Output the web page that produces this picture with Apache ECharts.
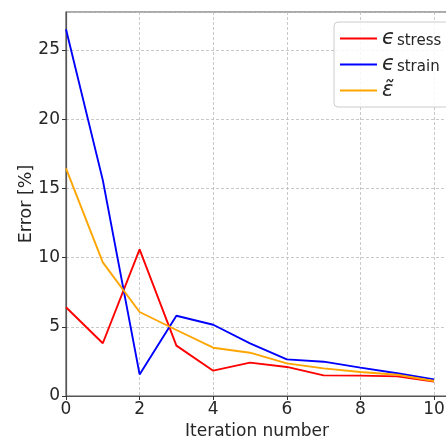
<!DOCTYPE html>
<html><head><meta charset="utf-8">
<script src="https://cdn.jsdelivr.net/npm/echarts@6/dist/echarts.min.js"></script>
<style>html,body{margin:0;padding:0;background:#fff}#c{width:446px;height:440px}</style>
</head><body><div id="c"></div>
<script>
const iterations = [0,1,2,3,4,5,6,7,8,9,10];
const errStress = [6.41,3.81,10.6,3.64,1.83,2.41,2.1,1.49,1.47,1.42,1.04];
const errStrain = [26.5,15.6,1.56,5.8,5.15,3.81,2.65,2.48,2.05,1.64,1.2];
const errTilde  = [16.45,9.66,6.07,4.77,3.49,3.13,2.36,2.0,1.73,1.54,1.08];
const yTicks = [0,5,10,15,20,25];
const xTicks = [0,2,4,6,8,10];

const font = 'DejaVu Sans';
const txt = '#262626';
const pair = (xs, ys) => xs.map((x,i)=>[x, ys[i]]);
const chart = echarts.init(document.getElementById('c'), null, {renderer:'canvas'});
chart.setOption({
  animation:false,
  grid:{left:66, top:12, right:-2, bottom:44, outerBoundsMode:'none', containLabel:false,
    show:true, borderColor:'#555', borderWidth:1.2, backgroundColor:'transparent'},
  xAxis:{type:'value', min:0, max:10.38, interval:2,
    name:'Iteration number', nameLocation:'middle', nameGap:27, nameMoveOverlap:false,
    nameTextStyle:{fontFamily:font, fontSize:17, color:txt},
    axisLine:{show:true, lineStyle:{color:'#555', width:1.2}},
    axisTick:{show:true, length:4, inside:false, lineStyle:{color:'#333'}},
    axisLabel:{fontFamily:font, fontSize:17, color:txt, margin:5, showMaxLabel:false,
      formatter:v => xTicks.includes(v) ? String(v) : ''},
    splitLine:{show:true, lineStyle:{type:[3,2], color:'#bbb', width:0.8}}},
  yAxis:{type:'value', min:0, max:27.75, interval:5,
    name:'Error [%]', nameLocation:'middle', nameGap:31, nameMoveOverlap:false,
    nameTextStyle:{fontFamily:font, fontSize:17.5, color:txt},
    axisLine:{show:true, lineStyle:{color:'#555', width:1.2}},
    axisTick:{show:true, length:4, lineStyle:{color:'#333'}},
    axisLabel:{fontFamily:font, fontSize:17, color:txt, margin:6, showMaxLabel:false,
      formatter:v => yTicks.includes(v) ? String(v) : ''},
    splitLine:{show:true, lineStyle:{type:[3,2], color:'#bbb', width:0.8}}},
  legend:{orient:'vertical', left:334, top:22, padding:[6,10,6,6],
    backgroundColor:'rgba(255,255,255,0.85)', borderColor:'#ccc', borderWidth:1, borderRadius:4,
    itemWidth:37, itemHeight:2, itemGap:5, icon:'rect',
    textStyle:{fontFamily:font, color:txt,
      rich:{e:{fontSize:21, fontFamily:font, fontStyle:'italic', color:txt, lineHeight:20}, s:{fontSize:15, fontFamily:font, color:txt, verticalAlign:'bottom', padding:[6,0,0,2]}}},
    formatter:n => n==='stress' ? '{e|ϵ}{s|stress}' : n==='strain' ? '{e|ϵ}{s|strain}' : '{e|ε̃}',
    data:['stress','strain','tilde']},
  series:[
    {name:'stress', type:'line', data:pair(iterations, errStress), showSymbol:false, symbol:'none', color:'#ff0000', lineStyle:{width:1.9, color:'#ff0000'}},
    {name:'strain', type:'line', data:pair(iterations, errStrain), showSymbol:false, symbol:'none', color:'#0000ff', lineStyle:{width:1.9, color:'#0000ff'}},
    {name:'tilde', type:'line', data:pair(iterations, errTilde), showSymbol:false, symbol:'none', color:'#ffa500', lineStyle:{width:1.9, color:'#ffa500'}}
  ]
});
</script></body></html>
